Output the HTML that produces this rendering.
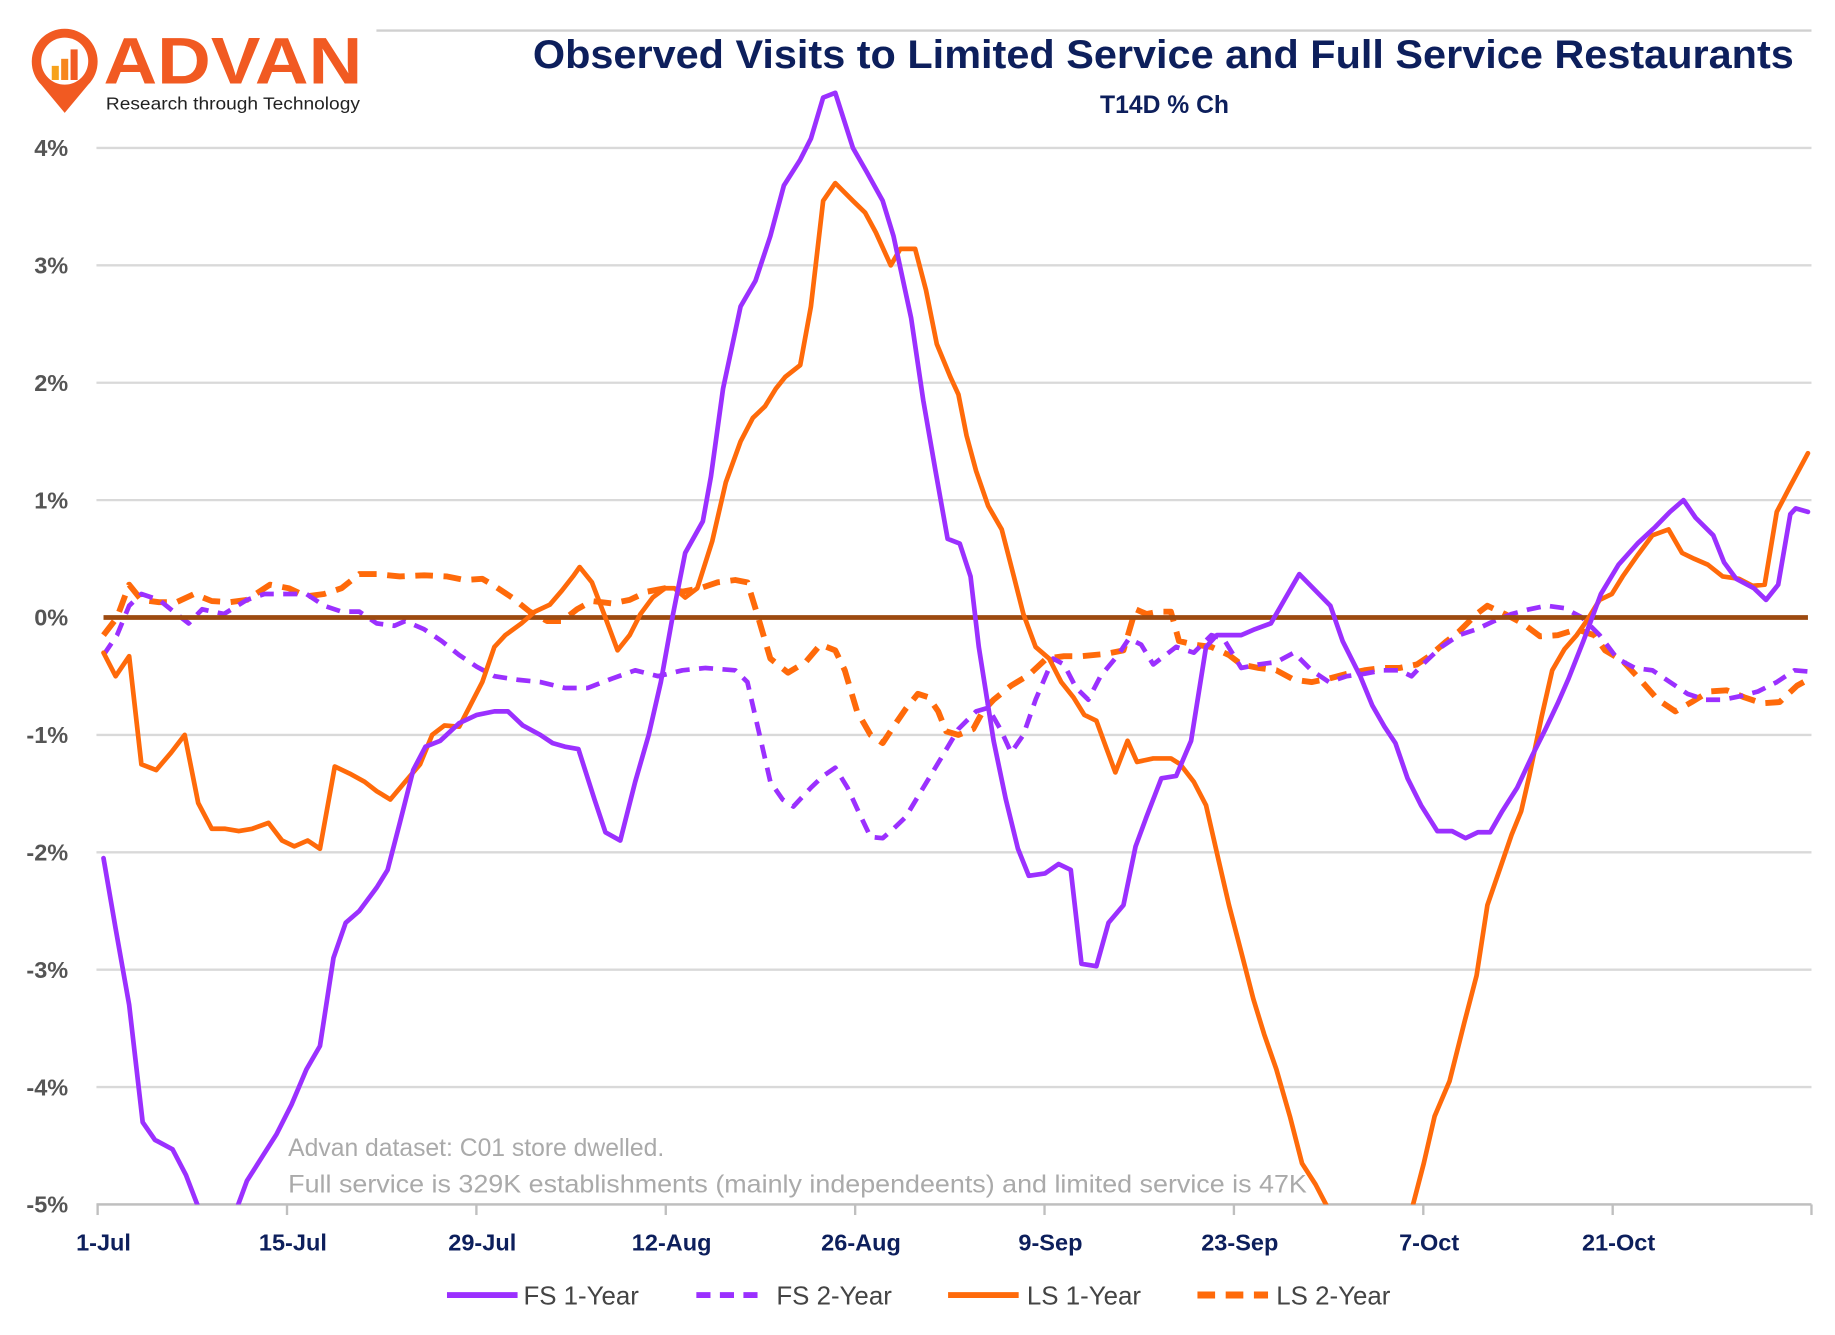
<!DOCTYPE html>
<html><head><meta charset="utf-8"><style>
html,body{margin:0;padding:0;background:#fff;}
svg{display:block;}
text{font-family:"Liberation Sans",sans-serif;}
</style></head><body>
<svg id="chart" width="1835" height="1335" viewBox="0 0 1560 1135" preserveAspectRatio="none" xmlns="http://www.w3.org/2000/svg">
<defs><clipPath id="plotclip"><rect x="80" y="60" width="1465" height="964"/></clipPath></defs>
<g>
  <path d="M55,96 L35,72 A28,28 0 1 1 75,72 Z" fill="#f15a22"/>
  <circle cx="55" cy="52" r="20" fill="#fff"/>
  <rect x="44" y="56" width="6" height="12" fill="#f7a21b"/>
  <rect x="52" y="50" width="6" height="18" fill="#f7861f"/>
  <rect x="60" y="42" width="6" height="26" fill="#f15a22"/>
  <text x="88" y="71" font-size="56" font-weight="bold" fill="#f15a22" textLength="220" lengthAdjust="spacingAndGlyphs">ADVAN</text>
  <text x="90" y="93" font-size="15" fill="#222" textLength="216" lengthAdjust="spacingAndGlyphs">Research through Technology</text>
</g>
<line x1="320" y1="26" x2="1540" y2="26" stroke="#d0d0d0" stroke-width="2"/>
<text x="453" y="58" font-size="34" font-weight="bold" fill="#0d1f5c" textLength="1072" lengthAdjust="spacingAndGlyphs">Observed Visits to Limited Service and Full Service Restaurants</text>
<text x="990" y="96" font-size="21" font-weight="bold" fill="#0d1f5c" text-anchor="middle">T14D % Ch</text>
<g id="grid"></g>
<g id="yticks"></g>
<g id="xticks"></g>
<text x="245" y="983" font-size="21" fill="#aaaaaa">Advan dataset: C01 store dwelled.</text>
<text x="245" y="1014" font-size="21" fill="#aaaaaa" textLength="866" lengthAdjust="spacingAndGlyphs">Full service is 329K establishments (mainly independeents) and limited service is 47K</text>
<g id="series" clip-path="url(#plotclip)"></g>
<g id="legend"></g>
</svg>
<script>
const yTicks = [4,3,2,1,0,-1,-2,-3,-4,-5];
const yTickLabels = ["4%","3%","2%","1%","0%","-1%","-2%","-3%","-4%","-5%"];
const xTickDays = [0,14,28,42,56,70,84,98,112];
const xTickLabels = ["1-Jul","15-Jul","29-Jul","12-Aug","26-Aug","9-Sep","23-Sep","7-Oct","21-Oct"];

const fs1Days = [0,0.9,1.9,2.9,3.8,5.1,6.1,7.1,8,9,9.8,10.6,11.7,12.8,13.9,15,16,17,17.9,18.9,20.2,21,21.9,22.9,23.8,24.9,26.3,27.6,28.9,29.9,31,32.3,33.2,34.1,35.1,36.3,37.1,38.2,39.3,40.3,41.2,42.1,43,44.3,44.9,45.8,47.1,48.2,49.3,50.3,51.5,52.3,53.2,54.1,55.4,56.4,57.6,58.4,59.7,60.6,61.5,62.4,63.3,64.1,64.7,65.8,66.7,67.6,68.4,69.6,70.6,71.5,72.3,73.4,74.3,75.4,76.3,77.1,78.2,79.3,80.4,81.5,82.3,83.2,84.1,85.1,86.3,87.3,88.4,90.7,91.6,92.9,93.8,94.7,95.5,96.4,97.4,98.6,99.7,100.7,101.6,102.5,103.4,104.5,105.6,106.6,107.5,108.3,109.4,110.7,112,113.4,114.7,115.8,116.8,117.7,119,119.8,120.7,122,122.9,123.8,124.7,125.1,126];
const fs1Values = [-2.05,-2.65,-3.3,-4.3,-4.45,-4.53,-4.75,-5.05,-5.4,-5.4,-5.05,-4.8,-4.6,-4.4,-4.15,-3.85,-3.65,-2.9,-2.6,-2.5,-2.3,-2.15,-1.75,-1.3,-1.1,-1.05,-0.9,-0.83,-0.8,-0.8,-0.92,-1.0,-1.07,-1.1,-1.12,-1.55,-1.83,-1.9,-1.4,-1.0,-0.55,0.03,0.55,0.82,1.2,1.95,2.65,2.87,3.25,3.68,3.9,4.08,4.43,4.47,4.0,3.8,3.55,3.25,2.55,1.85,1.25,0.67,0.63,0.35,-0.25,-1.05,-1.55,-1.97,-2.2,-2.18,-2.1,-2.15,-2.95,-2.97,-2.6,-2.45,-1.95,-1.7,-1.37,-1.35,-1.05,-0.25,-0.15,-0.15,-0.15,-0.1,-0.05,0.15,0.37,0.1,-0.2,-0.5,-0.75,-0.93,-1.07,-1.37,-1.6,-1.82,-1.82,-1.88,-1.83,-1.83,-1.65,-1.45,-1.18,-0.95,-0.73,-0.52,-0.2,0.2,0.45,0.63,0.77,0.9,1.0,0.85,0.7,0.47,0.33,0.25,0.15,0.28,0.88,0.93,0.9];

const fs2Days = [0,1,1.9,2.8,4.1,5.4,6.3,7.3,8.9,10.6,11.9,13.2,15,16.3,17.6,18.9,20.2,21.5,22.3,23.7,25,26.3,27.6,28.9,30.6,32.3,34.1,35.8,37.6,39.3,41,42.8,44.5,46.7,47.6,48.4,49.3,50.2,51,52.3,53.2,54.1,55,55.8,56.7,57.6,58.4,59.3,60.6,61.9,63.2,64.5,65.4,66.3,67.1,68,68.9,70.2,71,71.9,72.8,73.7,75,75.8,76.7,77.6,78.4,79.3,80.6,81.9,82.8,84.1,85.4,86.7,88,89.3,90.6,91.9,93.2,94.5,95.8,96.7,97.7,98.9,100.2,101.5,102.8,104.1,105.4,106.7,108,109.3,110.6,111.9,113.2,114.5,115.8,117.1,118.4,119.7,121,122.3,123.7,125,126];
const fs2Values = [-0.32,-0.15,0.1,0.2,0.15,0.03,-0.05,0.07,0.03,0.15,0.2,0.2,0.2,0.1,0.05,0.05,-0.05,-0.07,-0.03,-0.1,-0.2,-0.32,-0.42,-0.5,-0.53,-0.55,-0.6,-0.6,-0.52,-0.45,-0.5,-0.45,-0.43,-0.45,-0.55,-0.95,-1.4,-1.55,-1.61,-1.45,-1.35,-1.28,-1.45,-1.65,-1.87,-1.88,-1.8,-1.7,-1.45,-1.2,-0.95,-0.8,-0.77,-0.95,-1.15,-1.0,-0.7,-0.35,-0.4,-0.6,-0.7,-0.5,-0.32,-0.18,-0.23,-0.4,-0.33,-0.25,-0.3,-0.15,-0.18,-0.43,-0.4,-0.38,-0.3,-0.45,-0.55,-0.5,-0.48,-0.45,-0.45,-0.5,-0.38,-0.25,-0.15,-0.1,-0.03,0.03,0.07,0.1,0.08,0.0,-0.15,-0.35,-0.43,-0.45,-0.55,-0.65,-0.7,-0.7,-0.67,-0.63,-0.55,-0.45,-0.46];

const ls1Days = [0,0.9,1.9,2.8,3.9,5,6,7,8,9,10,11,12.2,13.2,14.1,15.1,16,17.1,18.2,19.3,20.2,21.2,22.3,23.4,24.3,25.2,26.3,27.1,28,28.9,29.7,30.9,31.9,33,33.9,34.7,35.2,36.1,37,38,38.9,39.7,40.6,41.5,42.2,43,43.9,45,46,47.1,48,48.9,49.7,50.4,51.5,52.3,53.2,54.1,55.4,56.3,57.1,58.2,58.9,60,60.8,61.6,62.6,63.2,63.8,64.5,65.4,66.4,67.3,68,68.9,69.9,70.8,71.7,72.5,73.4,74.1,74.8,75.7,76.4,77.6,78.9,79.6,80.6,81.5,82.3,83.2,84.1,85,85.8,86.7,87.7,88.6,89.6,90.6,91.9,95.4,96.7,97.6,98.4,99.5,100.6,101.5,102.3,103.2,104.1,104.8,105.4,106.3,107.1,108,108.9,109.7,110.6,111.5,112.3,113.4,114.5,115.7,116.7,117.6,118.6,119.7,120.9,121.9,122.8,123.7,124.7,126];
const ls1Values = [-0.3,-0.5,-0.33,-1.25,-1.3,-1.15,-1.0,-1.58,-1.8,-1.8,-1.82,-1.8,-1.75,-1.9,-1.95,-1.9,-1.97,-1.27,-1.33,-1.4,-1.48,-1.55,-1.4,-1.25,-1.0,-0.92,-0.93,-0.75,-0.55,-0.25,-0.15,-0.05,0.05,0.11,0.23,0.35,0.43,0.3,0.03,-0.28,-0.15,0.03,0.17,0.25,0.25,0.17,0.25,0.65,1.15,1.5,1.7,1.8,1.95,2.05,2.15,2.65,3.55,3.7,3.55,3.45,3.28,3.0,3.14,3.14,2.79,2.33,2.05,1.9,1.55,1.25,0.95,0.75,0.35,0.03,-0.25,-0.35,-0.55,-0.68,-0.83,-0.88,-1.1,-1.32,-1.05,-1.23,-1.2,-1.2,-1.25,-1.4,-1.6,-2.0,-2.45,-2.85,-3.25,-3.55,-3.85,-4.25,-4.65,-4.83,-5.05,-5.55,-5.55,-5.05,-4.65,-4.25,-3.95,-3.45,-3.05,-2.45,-2.15,-1.85,-1.65,-1.35,-0.85,-0.45,-0.27,-0.15,-0.02,0.15,0.2,0.35,0.53,0.7,0.75,0.55,0.5,0.45,0.35,0.33,0.27,0.28,0.9,1.12,1.4];

const ls2Days = [0,1,1.9,2.8,4.1,5.4,6.7,8,9.3,10.6,12.3,13.7,15,16.3,17.6,18.9,20.2,21.9,23.7,25.4,26.7,28,28.9,30.2,31.5,32.8,33.9,35,36.1,37.6,38.9,40.2,41.5,42.8,44.1,45.4,46.7,47.6,48.4,49.3,50.6,51.9,53,54.1,54.8,55.7,56.7,57.6,58.4,59.3,60.2,61,61.7,62.3,63.2,64.3,65,65.8,67.1,68.4,69.7,71,72.3,74.1,75.4,76.3,77.1,78,78.9,79.5,80.6,81.9,83.2,84.1,85.4,86.7,88,89.3,90.6,91.9,93.2,94.5,95.8,97.1,98,99.3,100.2,101.5,102.3,103.6,104.9,106.2,107.5,108.9,110.2,111,112.3,113.6,114.9,116.2,117.4,118.7,120,121.3,122.6,123.9,125.2,126];
const ls2Values = [-0.15,0.0,0.28,0.15,0.13,0.13,0.2,0.14,0.13,0.15,0.28,0.25,0.18,0.2,0.25,0.37,0.37,0.35,0.36,0.35,0.32,0.33,0.27,0.17,0.05,-0.03,-0.03,0.07,0.14,0.12,0.15,0.22,0.25,0.22,0.25,0.3,0.32,0.3,0.0,-0.35,-0.47,-0.38,-0.23,-0.28,-0.45,-0.8,-1.0,-1.07,-0.93,-0.78,-0.65,-0.68,-0.8,-0.97,-1.0,-0.95,-0.8,-0.7,-0.58,-0.49,-0.35,-0.33,-0.33,-0.31,-0.28,0.07,0.03,0.05,0.05,-0.2,-0.23,-0.25,-0.32,-0.4,-0.43,-0.45,-0.53,-0.55,-0.52,-0.48,-0.45,-0.43,-0.43,-0.4,-0.33,-0.2,-0.12,0.03,0.1,0.03,-0.05,-0.16,-0.15,-0.1,-0.15,-0.28,-0.37,-0.53,-0.7,-0.8,-0.72,-0.63,-0.62,-0.68,-0.73,-0.72,-0.58,-0.53];

const seriesNames = ["FS  1-Year","FS  2-Year","LS  1-Year","LS  2-Year"];

const NS = "http://www.w3.org/2000/svg";
const PX0 = 88, PXD = 11.5, Y0 = 525, YPP = 99.8;
function xScale(d){ return PX0 + d*PXD; }
function yScale(v){ return Y0 - v*YPP; }
function mk(tag, attrs, parent){ const e=document.createElementNS(NS,tag); for(const k in attrs) e.setAttribute(k,attrs[k]); parent.appendChild(e); return e; }

const grid=document.getElementById('grid'), yt=document.getElementById('yticks'), xt=document.getElementById('xticks');
yTicks.forEach((v,i)=>{
  if(v!==0){
    const g=mk('line',{x1:82,x2:1540,y1:yScale(v),y2:yScale(v),stroke:'#d9d9d9','stroke-width':2},grid);
    
    
  }
  const t=mk('text',{x:58,y:yScale(v)+7,'font-size':20,'font-weight':'bold',fill:'#555','text-anchor':'end'},yt);
  t.textContent=yTickLabels[i];
  
  
});
const axis=mk('line',{x1:82,x2:1540,y1:yScale(-5),y2:yScale(-5),stroke:'#bfbfbf','stroke-width':2},grid);


xTickDays.forEach((d,i)=>{
  const x=xScale(d)-5;
  const tk=mk('line',{x1:x,x2:x,y1:yScale(-5),y2:yScale(-5)+9,stroke:'#bfbfbf','stroke-width':2},xt);
  
  
  const t=mk('text',{x:x+5,y:1063,'font-size':20,'font-weight':'bold',fill:'#0d1f5c','text-anchor':'middle'},xt);
  t.textContent=xTickLabels[i];
  
  
});
const endTick=mk('line',{x1:1540,x2:1540,y1:yScale(-5),y2:yScale(-5)+9,stroke:'#bfbfbf','stroke-width':2},xt);



const ser=document.getElementById('series');
function drawLine(days, vals, color, dash, width, name){
  const pts=days.map((d,i)=>xScale(d).toFixed(1)+','+yScale(vals[i]).toFixed(1)).join(' ');
  const p=mk('polyline',{points:pts,fill:'none',stroke:color,'stroke-width':width,'stroke-linejoin':'round','stroke-linecap':dash?'butt':'round'},ser);
  if(dash) p.setAttribute('stroke-dasharray',dash);
  
  
}
drawLine(ls2Days, ls2Values, '#ff6a0a', '15 9', 5, 'ls-2-year-line');
drawLine(fs2Days, fs2Values, '#9b30ff', '12 8', 4, 'fs-2-year-line');
const zl=mk('line',{x1:xScale(0),x2:xScale(126),y1:yScale(0),y2:yScale(0),stroke:'#9c4a10','stroke-width':4},ser);


drawLine(ls1Days, ls1Values, '#ff6a0a', null, 4, 'ls-1-year-line');
drawLine(fs1Days, fs1Values, '#9b30ff', null, 4, 'fs-1-year-line');

const leg=document.getElementById('legend');
const legX=[380,592,806,1018], legTextX=[445,660,873,1085];
const legColors=['#9b30ff','#9b30ff','#ff6a0a','#ff6a0a'], legDash=[null,'12 8',null,'15 9'];
seriesNames.forEach((n,i)=>{
  const l=mk('line',{x1:legX[i],x2:legX[i]+60,y1:1101,y2:1101,stroke:legColors[i],'stroke-width':legDash[i]==='15 9'?6:5},leg);
  if(legDash[i]) l.setAttribute('stroke-dasharray',legDash[i]);
  
  
  const t=mk('text',{x:legTextX[i],y:1109,'font-size':22,fill:'#444'},leg);
  t.textContent=n;
  t.setAttribute('xml:space','preserve');
  
  
});
</script>
</body></html>
